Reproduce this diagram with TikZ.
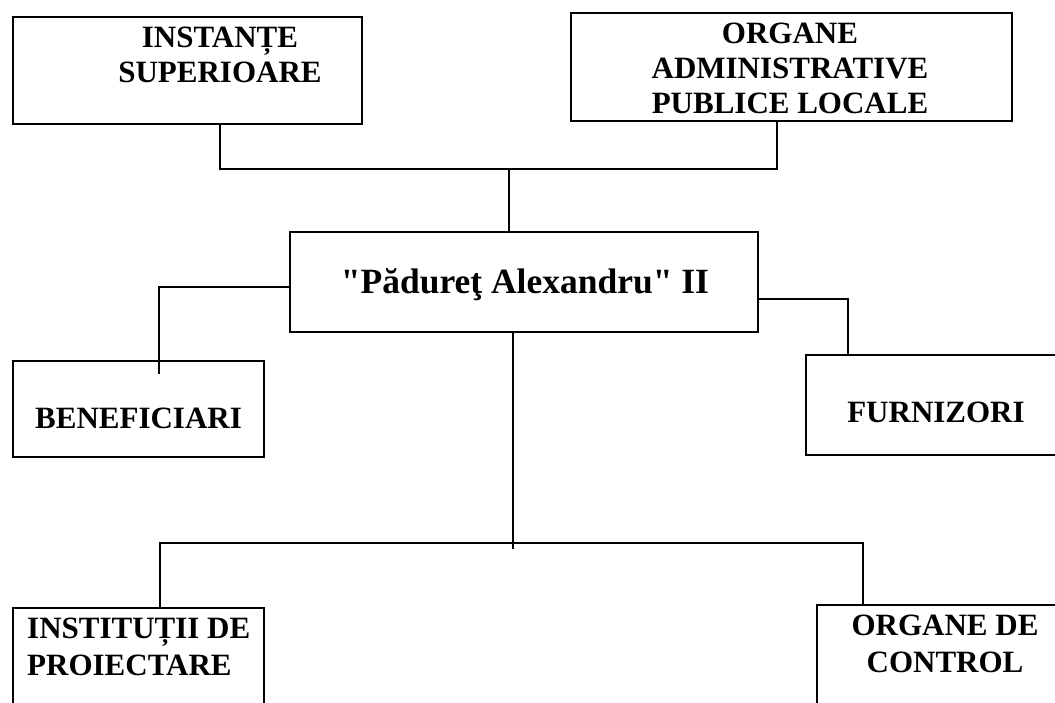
\documentclass[tikz,border=0pt]{standalone}
\usepackage{fontspec}
\setmainfont{Liberation Serif}
\newfontfamily\plainserif{Liberation Serif}[Ligatures=TeXOff]
\begin{document}
\begin{tikzpicture}[x=1pt,y=-1pt]
\tikzset{
  box/.style={draw, line width=1.5pt, inner sep=0pt, outer sep=0pt},
  lbl/.style={font=\fontsize{31}{35}\selectfont\bfseries, align=center, inner sep=0pt},
  lbltwo/.style={font=\fontsize{31}{37}\selectfont\bfseries, inner sep=0pt},
  conn/.style={line width=1.5pt}
}
\useasboundingbox (0,0) rectangle (1055,702);
% boxes
\node[box, minimum width=349pt, minimum height=107pt] (inst) at (187.5,70.5) {};
\node[box, minimum width=441pt, minimum height=108pt] (org) at (791.5,67) {};
\node[box, minimum width=468pt, minimum height=100pt] (main) at (524,282) {};
\node[box, minimum width=251pt, minimum height=96pt] (ben) at (138.5,409) {};
\node[box, minimum width=256pt, minimum height=100pt] (furn) at (934,405) {};
\node[box, minimum width=251pt, minimum height=104pt] (proi) at (138.5,660) {};
\node[box, minimum width=245pt, minimum height=107pt] (ctrl) at (939.5,658.5) {};
% labels (base anchor = baseline of last line)
\node[lbl, anchor=base] (tinst) at (220,82) {INSTANȚE\\SUPERIOARE};
\node[lbl, anchor=base] (torg) at (790,113) {ORGANE\\ADMINISTRATIVE\\PUBLICE LOCALE};
\node[lbl, font=\fontsize{35.5}{40}\selectfont\plainserif\bfseries, anchor=base] (tmain) at (525,293) {"Pădureţ Alexandru" II};
\node[lbl, anchor=base] (tben) at (138.5,428) {BENEFICIARI};
\node[lbl, anchor=base] (tfurn) at (936,422) {FURNIZORI};
\node[lbltwo, align=left, anchor=base west] (tproi) at (27,675) {INSTITUȚII DE\\PROIECTARE};
\node[lbltwo, align=center, anchor=base] (tctrl) at (945,672) {ORGANE DE\\CONTROL};
% junctions
\coordinate (jt) at (509,169);
\coordinate (jb) at (513,543);
% connectors
\draw[conn] ([xshift=32.5pt]inst.south) |- (jt) -| ([xshift=-14.5pt]org.south);
\draw[conn] (jt) -- (jt |- main.north);
\draw[conn] ([yshift=-5pt]main.west) -| ([xshift=20.5pt,yshift=-13pt]ben.north);
\draw[conn] ([yshift=-17pt]main.east) -| ([xshift=-86pt]furn.north);
\draw[conn] (jb |- main.south) -- ([yshift=-6pt]jb);
\draw[conn] ([xshift=21.5pt]proi.north) |- (jb) -| ([xshift=-76.5pt]ctrl.north);
\end{tikzpicture}
\end{document}
